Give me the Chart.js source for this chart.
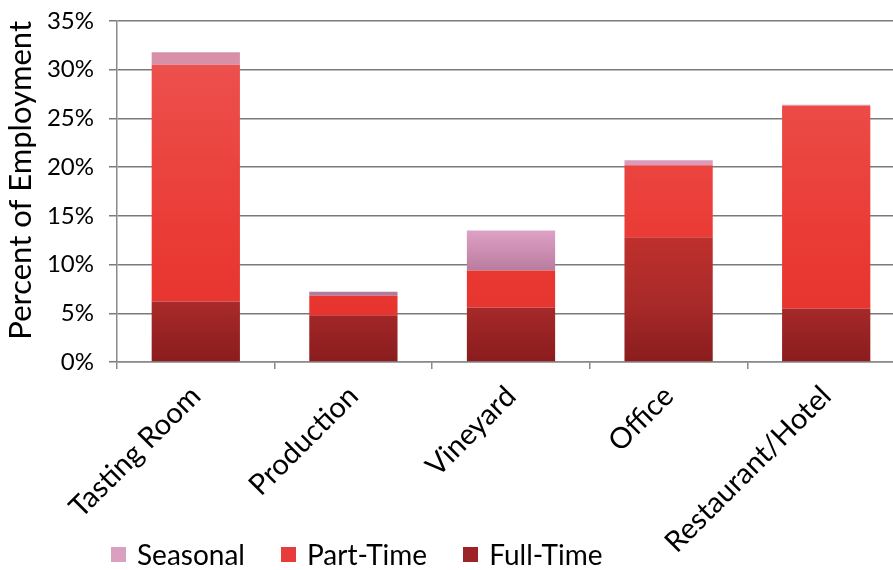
<!DOCTYPE html>
<html>
<head>
<meta charset="utf-8">
<title>Percent of Employment</title>
<script src="https://cdn.jsdelivr.net/npm/chart.js@4"></script>
<style>
  body { margin: 0; overflow: hidden; background: #fff; }
  #wrap { position: relative; width: 905px; height: 570px; }
  #legend {
    position: absolute; left: 111px; top: 537px;
    display: flex; font-family: Lato, sans-serif; font-size: 28px; color: #000;
  }
  #legend .item { display: flex; align-items: center; margin-right: 36px; }
  #legend .box { width: 15px; height: 15px; margin-right: 11px; }
</style>
</head>
<body>
<div id="wrap">
  <canvas id="chart" width="905" height="570"></canvas>
  <div id="legend"></div>
</div>
<script>
const categories = ["Tasting Room", "Production", "Vineyard", "Office", "Restaurant/Hotel"];
const fullTime = [6.2, 4.8, 5.6, 12.8, 5.5];
const partTime = [24.3, 2.0, 3.8, 7.4, 20.8];
const seasonal = [1.3, 0.4, 4.1, 0.5, 0.1];
const yTicks = [0, 5, 10, 15, 20, 25, 30, 35];

const FONT = "Lato, sans-serif";

// vertical gradient over the plot area, stops given in percent of the y scale
function gradient(stops, fallback) {
  return function (c) {
    const chart = c.chart;
    const area = chart.chartArea;
    if (!area) return fallback;
    const y = chart.scales.y;
    const g = chart.ctx.createLinearGradient(0, area.bottom, 0, area.top);
    stops.forEach((s) => {
      const p = (area.bottom - y.getPixelForValue(s[0])) / (area.bottom - area.top);
      g.addColorStop(Math.max(0, Math.min(1, p)), s[1]);
    });
    return g;
  };
}

const ctx = document.getElementById("chart").getContext("2d");
const chart = new Chart(ctx, {
  type: "bar",
  data: {
    labels: categories,
    datasets: [
      {
        label: "Full-Time",
        data: fullTime,
        swatch: "#9c2427",
        backgroundColor: gradient([[0, "#8a1c1e"], [6, "#a82a29"], [13, "#bf302c"]], "#a82a29"),
      },
      {
        label: "Part-Time",
        data: partTime,
        swatch: "#e83c3c",
        backgroundColor: gradient([[0, "#e5302c"], [12, "#ea3a34"], [30, "#ec4f4c"]], "#e8403d"),
      },
      {
        label: "Seasonal",
        data: seasonal,
        swatch: "#d9a0bf",
        backgroundColor: gradient([[9, "#b27a9c"], [11, "#c98aae"], [13.5, "#dda2c6"], [32, "#d68fa6"]], "#d89ab8"),
      },
    ],
  },
  options: {
    responsive: false,
    animation: false,
    layout: { padding: { top: 0, right: 0, left: 0, bottom: 0 } },
    datasets: {
      bar: { barPercentage: 0.56, categoryPercentage: 1, borderWidth: 0 },
    },
    plugins: {
      legend: { display: false },
      tooltip: { enabled: false },
    },
    scales: {
      x: {
        stacked: true,
        offset: true,
        border: { color: "#8a8a8a", width: 1.5 },
        grid: { display: true, drawOnChartArea: false, offset: true, color: "#8a8a8a", tickLength: 7, lineWidth: 1.5 },
        ticks: {
          minRotation: 45,
          maxRotation: 45,
          padding: 10,
          color: "#000",
          font: { family: FONT, size: 29 },
        },
        afterFit: (s) => { s.height = 208; },
      },
      y: {
        stacked: true,
        min: 0,
        max: 35,
        afterBuildTicks: (s) => { s.ticks = yTicks.map((v) => ({ value: v })); },
        border: { color: "#8a8a8a", width: 1.5 },
        grid: { color: "#7a7a7a", tickLength: 8, lineWidth: 1.5 },
        ticks: {
          padding: 15,
          color: "#000",
          // small line height keeps the top padding down to 21px
          font: { family: FONT, size: 24, lineHeight: 0.5 },
          callback: (v) => v + "%",
        },
        title: {
          display: true,
          text: "Percent of Employment",
          align: "end",
          color: "#000",
          font: { family: FONT, size: 31 },
          padding: { top: 2, bottom: 0 },
        },
        afterFit: (s) => { s.width = 117; },
      },
    },
  },
});

// html legend, drawn from the datasets in reverse (top of stack first)
const legend = document.getElementById("legend");
chart.data.datasets.slice().reverse().forEach((ds) => {
  const item = document.createElement("div");
  item.className = "item";
  const box = document.createElement("span");
  box.className = "box";
  box.style.background = ds.swatch;
  const txt = document.createElement("span");
  txt.textContent = ds.label;
  item.appendChild(box);
  item.appendChild(txt);
  legend.appendChild(item);
});
</script>
</body>
</html>
